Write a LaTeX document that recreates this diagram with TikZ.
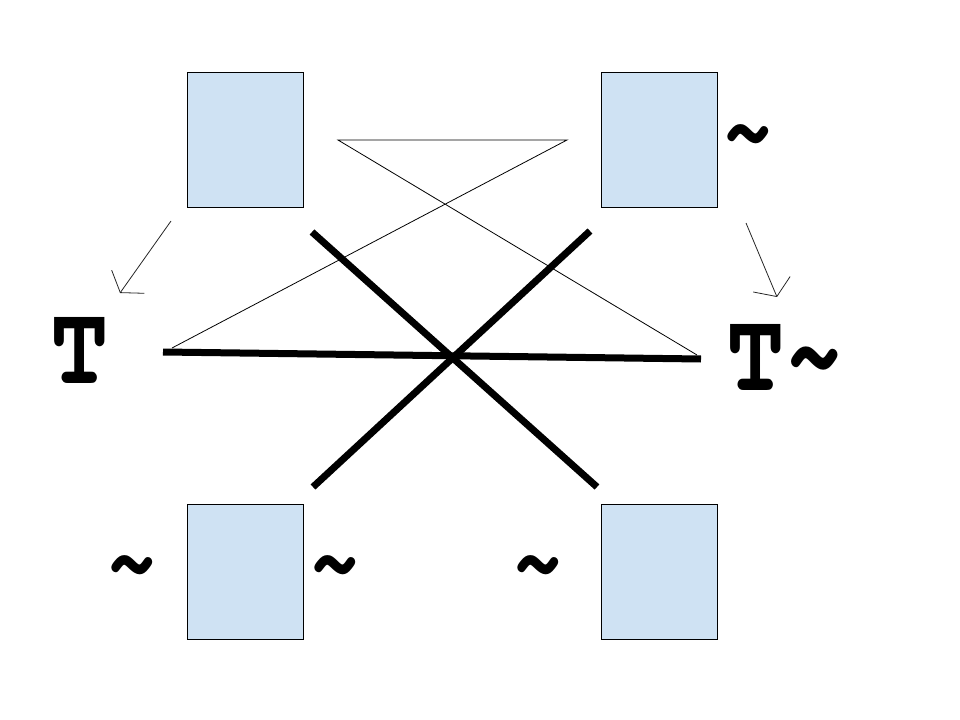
\documentclass[tikz,border=0pt]{standalone}
\usepackage[T1,TU]{fontenc}
\usetikzlibrary{arrows.meta}
\definecolor{cellblue}{HTML}{CFE2F3}
\newcommand{\slabfont}[1]{\fontencoding{T1}\fontfamily{pcr}\fontseries{b}\fontsize{#1}{#1}\selectfont}

\begin{document}
\begin{tikzpicture}[
  x=0.75pt,
  y=-0.75pt,
  line join=miter,
  cell/.style={draw=black,line width=0.75pt,fill=cellblue,minimum width=87pt,minimum height=101.25pt,inner sep=0pt},
  heavy/.style={draw=black,line width=5.25pt},
  fine/.style={draw=black,line width=0.6pt},
  pointer/.style={draw=black!85,line width=0.6pt,-{Straight Barb[length=10pt,width=30pt]}},
  glyph/.style={font=\slabfont{85},inner sep=0pt,anchor=base,xscale=0.86,transform shape},
  squiggle/.style={font=\slabfont{70},inner sep=0pt,anchor=base,xscale=0.92,transform shape}
]
  % Page frame, in pixels of the reference.
  \useasboundingbox (0,0) rectangle (960,720);

  % Four cells.
  \node[cell] (topleft) at (245,140.5) {};
  \node[cell] (topright) at (659.5,140.5) {};
  \node[cell] (bottomleft) at (245,571.5) {};
  \node[cell] (bottomright) at (659.5,571.5) {};

  % Letters and tildes.
  \node[glyph] (leftT) at (80,383) {T};
  \node[glyph] (rightT) at (785,390) {T\textasciitilde};
  \node[squiggle] (tildeTR) at (748,161) {\textasciitilde};
  \node[squiggle] (tildeBLa) at (132,591) {\textasciitilde};
  \node[squiggle] (tildeBLb) at (335,591) {\textasciitilde};
  \node[squiggle] (tildeBR) at (538,591) {\textasciitilde};

  % End points of the strokes.
  \coordinate (zigA) at (172,348);
  \coordinate (zigB) at (567,140);
  \coordinate (zigC) at (338,140);
  \coordinate (zigD) at (697,355);
  \coordinate (barW) at (163,352);
  \coordinate (barE) at (701,359);
  \coordinate (slashNW) at (312,232);
  \coordinate (slashSE) at (597,487);
  \coordinate (slashNE) at (590,231);
  \coordinate (slashSW) at (313,487);
  \coordinate (leftfrom) at (171,221);
  \coordinate (leftto) at (120,293);
  \coordinate (rightfrom) at (746,223);
  \coordinate (rightto) at (777,297);

  % Thin zigzag.
  \draw[fine] (zigA) -- (zigB) -- (zigC) -- (zigD);

  % Heavy cross.
  \draw[heavy] (barW) -- (barE);
  \draw[heavy] (slashNW) -- (slashSE);
  \draw[heavy] (slashNE) -- (slashSW);

  % Side arrows.
  \draw[pointer] (leftfrom) -- (leftto);
  \draw[pointer] (rightfrom) -- (rightto);
\end{tikzpicture}
\end{document}
